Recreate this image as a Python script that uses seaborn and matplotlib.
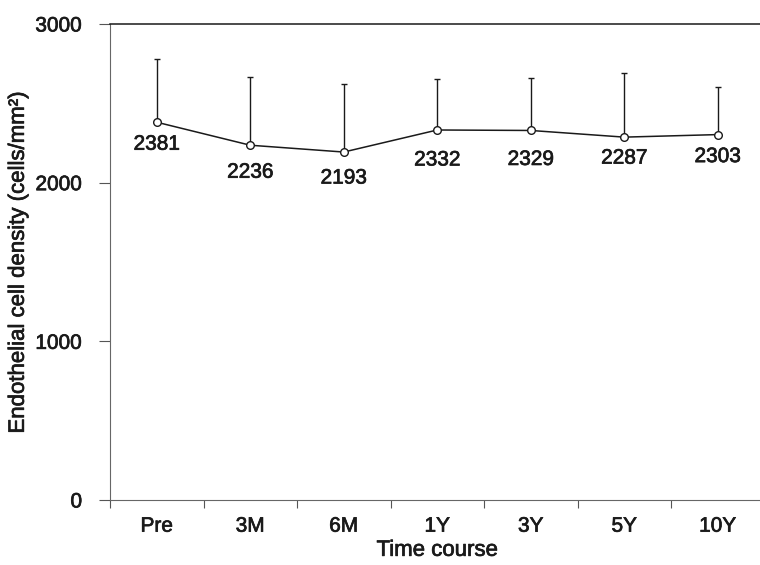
import numpy as np
import pandas as pd
import seaborn as sns
import matplotlib.pyplot as plt
import matplotlib.patheffects as pe
from matplotlib.ticker import FixedLocator

# Datos
time_points = ['Pre', '3M', '6M', '1Y', '3Y', '5Y', '10Y']
ecd_mean = [2381, 2236, 2193, 2332, 2329, 2287, 2303]
ecd_sd = [396, 431, 430, 321, 330, 406, 299]

df = pd.DataFrame({'time': time_points, 'ecd': ecd_mean})

sns.set_theme(style='white')
plt.rcParams['font.family'] = ['Liberation Sans', 'DejaVu Sans']

INK = '#1a1a1a'
# trazo extra para imitar la tinta más gruesa del escaneo
thick = [pe.withStroke(linewidth=0.5, foreground=INK)]

fig = plt.figure(figsize=(7.6, 5.65), dpi=100)
ax = fig.add_axes([110 / 760, 65 / 565, 654.5 / 760, 476 / 565])

x = np.arange(len(time_points))

# barras de error (solo hacia arriba)
ax.errorbar(x, ecd_mean, yerr=[np.zeros(len(ecd_sd)), ecd_sd],
            fmt='none', ecolor=INK, elinewidth=1.0,
            capsize=2.5, capthick=1.0, zorder=2)

sns.lineplot(data=df, x='time', y='ecd', sort=False, ax=ax,
             color=INK, linewidth=1.1, marker='o', markersize=5.5,
             markerfacecolor='white', markeredgecolor=INK,
             markeredgewidth=1.0, zorder=3)

# etiquetas de valores
offsets = [22, 27, 26, 30, 29, 21, 22]
for xi, v, off in zip(x, ecd_mean, offsets):
    ax.annotate(str(v), (xi, v), xytext=(0, -off * 0.72),
                textcoords='offset points', ha='center', va='center',
                fontsize=15, color=INK, path_effects=thick)

ax.set_xlim(-0.5, len(time_points) - 0.5)
ax.set_ylim(0, 3000)
ax.set_yticks([0, 1000, 2000, 3000])
ax.set_yticklabels(['0', '1000', '2000', '3000'])
ax.set_xticks(x)
ax.set_xticklabels(time_points)
ax.xaxis.set_minor_locator(FixedLocator(np.arange(-0.5, len(time_points), 1.0)))

ax.tick_params(axis='x', which='major', length=0, pad=12, labelsize=15,
               colors=INK)
ax.tick_params(axis='x', which='minor', length=6, width=0.8,
               color='#555555', direction='out', bottom=True)
ax.tick_params(axis='y', length=8, width=0.8, color='#555555',
               direction='out', pad=12, labelsize=15, labelcolor=INK,
               left=True)
for lab in ax.get_xticklabels() + ax.get_yticklabels():
    lab.set_path_effects(thick)

for side in ['left', 'bottom']:
    ax.spines[side].set_color('#666666')
    ax.spines[side].set_linewidth(0.8)
ax.spines['top'].set_color(INK)
ax.spines['top'].set_linewidth(1.1)
ax.spines['right'].set_visible(False)

ax.set_xlabel('Time course', fontsize=16, color=INK, labelpad=3,
              path_effects=thick)
ax.set_ylabel('Endothelial cell density (cells/mm²)', fontsize=16,
              color=INK, path_effects=thick)
ax.yaxis.set_label_coords(-0.124, 0.5)

fig.savefig('out.png', dpi=100)
